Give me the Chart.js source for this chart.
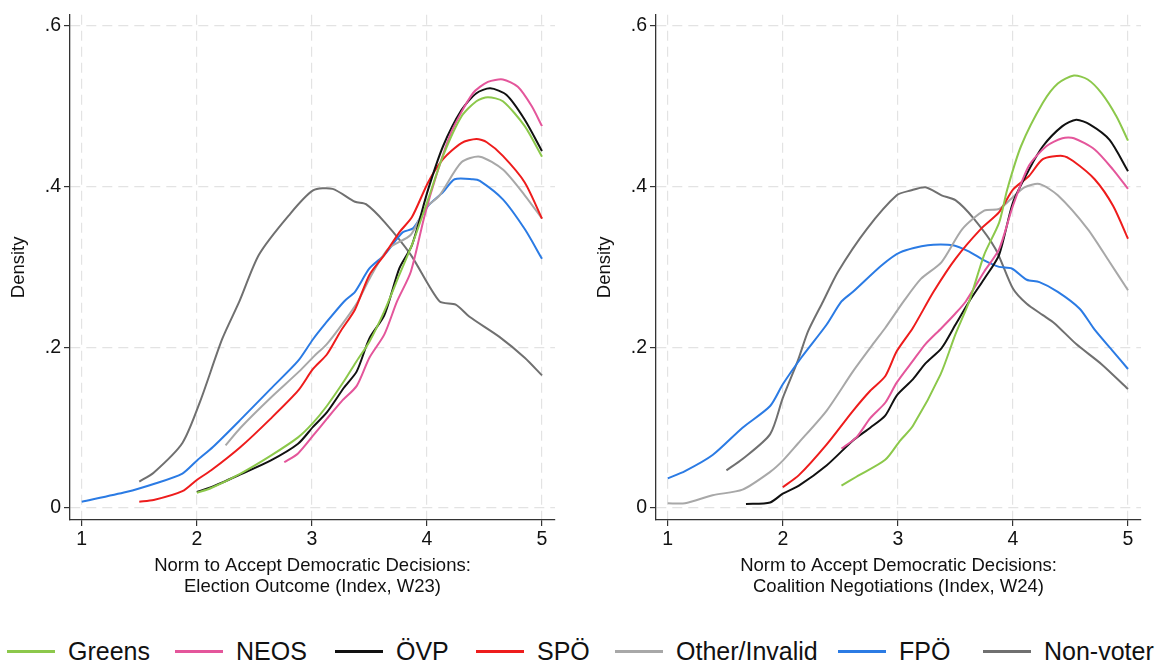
<!DOCTYPE html>
<html>
<head>
<meta charset="utf-8">
<title>Density of democratic norm by party</title>
<script src="https://cdn.jsdelivr.net/npm/chart.js@4.4.1/dist/chart.umd.min.js"></script>
<style>
    body { margin: 0; background: #fff; width: 1157px; height: 667px; overflow: hidden; position: relative;
           font-family: "Liberation Sans", Arial, sans-serif; }
    .panel { position: absolute; top: 0; }
    .legend-item { position: absolute; top: 636px; height: 30px; display: flex; align-items: center;
                   font-size: 25px; color: #111; white-space: nowrap; }
    .legend-item .swatch { width: 48px; height: 3px; margin-right: 13px; }
</style>
</head>
<body>

<div class="panel" style="left:0"><canvas id="w23Chart" width="586" height="610"></canvas></div>
<div class="panel" style="left:586px"><canvas id="w24Chart" width="571" height="610"></canvas></div>
<div id="legend"></div>

<script>
// series names and colours (legend order)
const seriesNames = ['Greens', 'NEOS', 'ÖVP', 'SPÖ', 'Other/Invalid', 'FPÖ', 'Non-voter'];
const seriesColors = ['#8cc84b', '#e4569b', '#111111', '#ee1c1c', '#a8a8a8', '#2b7be4', '#707070'];

// axis ticks
const xTicks = [1, 2, 3, 4, 5];
const yTicks = [0, 0.2, 0.4, 0.6];

// W23: election outcome — [index value, density]
const w23Greens = [[2.0,0.019],[2.125,0.025],[2.38,0.043],[2.64,0.065],[2.88,0.088],[3.01,0.106],[3.13,0.127],[3.28,0.158],[3.39,0.183],[3.5,0.207],[3.63,0.245],[3.76,0.29],[3.88,0.331],[4.01,0.384],[4.14,0.438],[4.3,0.487],[4.43,0.506],[4.53,0.511],[4.66,0.506],[4.85,0.475],[5.0,0.437]];
const w23Neos = [[2.76,0.057],[2.88,0.068],[3.01,0.09],[3.13,0.111],[3.26,0.133],[3.39,0.152],[3.5,0.187],[3.63,0.216],[3.74,0.257],[3.86,0.294],[3.98,0.364],[4.08,0.413],[4.21,0.467],[4.4,0.516],[4.53,0.53],[4.66,0.533],[4.79,0.524],[4.91,0.5],[5.0,0.475]];
const w23Ovp = [[2.0,0.02],[2.125,0.026],[2.38,0.042],[2.64,0.059],[2.88,0.08],[3.01,0.101],[3.13,0.119],[3.28,0.15],[3.39,0.17],[3.5,0.211],[3.63,0.24],[3.76,0.298],[3.87,0.327],[4.01,0.396],[4.14,0.45],[4.3,0.495],[4.43,0.516],[4.55,0.522],[4.69,0.514],[4.85,0.483],[5.0,0.444]];
const w23Spo = [[1.5,0.008],[1.625,0.01],[1.875,0.021],[2.0,0.035],[2.125,0.047],[2.38,0.076],[2.64,0.111],[2.88,0.146],[3.01,0.173],[3.13,0.191],[3.25,0.22],[3.375,0.247],[3.5,0.29],[3.63,0.315],[3.76,0.343],[3.87,0.362],[4.01,0.405],[4.14,0.434],[4.3,0.454],[4.43,0.459],[4.52,0.455],[4.66,0.438],[4.85,0.405],[5.0,0.36]];
const w23Other = [[2.25,0.078],[2.38,0.1],[2.64,0.137],[2.89,0.17],[3.02,0.189],[3.13,0.204],[3.28,0.232],[3.4,0.257],[3.5,0.285],[3.66,0.322],[3.86,0.34],[3.98,0.372],[4.11,0.389],[4.3,0.43],[4.46,0.437],[4.66,0.421],[4.85,0.389],[5.0,0.36]];
const w23Fpo = [[1.0,0.008],[1.385,0.02],[1.625,0.03],[1.875,0.043],[2.0,0.059],[2.14,0.076],[2.38,0.11],[2.64,0.148],[2.88,0.183],[3.01,0.21],[3.12,0.23],[3.28,0.257],[3.375,0.269],[3.5,0.298],[3.63,0.315],[3.79,0.343],[3.88,0.348],[4.01,0.376],[4.14,0.393],[4.24,0.409],[4.4,0.409],[4.46,0.407],[4.66,0.384],[4.85,0.347],[5.0,0.31]];
const w23NonVoter = [[1.5,0.033],[1.625,0.044],[1.875,0.081],[2.03,0.133],[2.22,0.21],[2.37,0.257],[2.54,0.315],[2.8,0.364],[3.01,0.395],[3.18,0.397],[3.375,0.381],[3.47,0.378],[3.63,0.356],[3.86,0.315],[4.11,0.257],[4.25,0.253],[4.37,0.238],[4.63,0.213],[4.85,0.187],[5.0,0.165]];

// W24: coalition negotiations — [index value, density]
const w24Greens = [[2.51,0.028],[2.64,0.039],[2.89,0.06],[3.02,0.084],[3.13,0.102],[3.37,0.166],[3.5,0.216],[3.62,0.257],[3.75,0.315],[3.88,0.355],[3.95,0.396],[4.07,0.45],[4.26,0.504],[4.39,0.528],[4.53,0.538],[4.65,0.533],[4.77,0.516],[4.9,0.487],[5.0,0.457]];
const w24Neos = [[2.51,0.074],[2.64,0.088],[2.76,0.112],[2.89,0.131],[2.99,0.156],[3.13,0.183],[3.24,0.204],[3.38,0.224],[3.5,0.242],[3.59,0.257],[3.75,0.294],[3.88,0.322],[4.0,0.376],[4.14,0.426],[4.29,0.45],[4.43,0.46],[4.53,0.46],[4.71,0.446],[4.87,0.421],[5.0,0.397]];
const w24Ovp = [[1.68,0.005],[1.89,0.007],[2.0,0.018],[2.14,0.028],[2.38,0.053],[2.61,0.084],[2.76,0.1],[2.89,0.115],[2.99,0.14],[3.13,0.16],[3.24,0.18],[3.38,0.199],[3.5,0.228],[3.62,0.257],[3.75,0.285],[3.88,0.315],[4.0,0.38],[4.14,0.421],[4.26,0.45],[4.43,0.475],[4.55,0.483],[4.67,0.477],[4.84,0.458],[5.0,0.419]];
const w24Spo = [[2.0,0.026],[2.14,0.041],[2.38,0.079],[2.61,0.121],[2.76,0.146],[2.89,0.164],[2.99,0.195],[3.13,0.224],[3.31,0.269],[3.5,0.31],[3.72,0.347],[3.88,0.368],[4.0,0.396],[4.14,0.413],[4.26,0.434],[4.43,0.438],[4.52,0.432],[4.71,0.409],[4.87,0.376],[5.0,0.335]];
const w24Other = [[1.0,0.006],[1.15,0.006],[1.39,0.016],[1.65,0.023],[1.89,0.045],[2.0,0.059],[2.13,0.08],[2.38,0.121],[2.61,0.17],[2.8,0.207],[2.89,0.224],[3.05,0.257],[3.2,0.285],[3.38,0.306],[3.56,0.347],[3.75,0.37],[3.88,0.372],[3.98,0.384],[4.1,0.399],[4.23,0.403],[4.39,0.389],[4.65,0.347],[4.84,0.306],[5.0,0.271]];
const w24Fpo = [[1.0,0.037],[1.15,0.046],[1.39,0.066],[1.65,0.1],[1.89,0.127],[2.0,0.154],[2.16,0.187],[2.38,0.228],[2.51,0.257],[2.61,0.269],[2.86,0.302],[3.02,0.318],[3.26,0.327],[3.48,0.327],[3.62,0.319],[3.75,0.308],[3.88,0.3],[3.99,0.298],[4.12,0.284],[4.23,0.281],[4.39,0.269],[4.58,0.248],[4.71,0.222],[4.87,0.195],[5.0,0.173]];
const w24NonVoter = [[1.51,0.047],[1.65,0.061],[1.89,0.092],[2.0,0.137],[2.13,0.183],[2.22,0.22],[2.35,0.257],[2.48,0.294],[2.73,0.347],[2.99,0.389],[3.11,0.395],[3.24,0.399],[3.38,0.389],[3.5,0.383],[3.66,0.36],[3.85,0.322],[4.0,0.273],[4.12,0.254],[4.26,0.24],[4.36,0.23],[4.55,0.204],[4.77,0.179],[5.0,0.148]];

const w23Series = [w23Greens, w23Neos, w23Ovp, w23Spo, w23Other, w23Fpo, w23NonVoter];
const w24Series = [w24Greens, w24Neos, w24Ovp, w24Spo, w24Other, w24Fpo, w24NonVoter];

Chart.defaults.font.family = "'Liberation Sans', Arial, sans-serif";
Chart.defaults.color = '#111';

const gridStyle = {
    color: '#e3e3e3',
    lineWidth: 1.2,
    tickLength: 6,
    tickColor: '#333',
    tickWidth: 1.2,
    tickBorderDash: []
};
const borderStyle = { color: '#333', width: 1.3, dash: [10, 6] };

function makePanel(canvasId, series, titleLines) {
    const canvas = document.getElementById(canvasId);
    const datasets = series.map((pts, i) => ({
        label: seriesNames[i],
        data: pts.map(p => ({ x: p[0], y: p[1] })),
        borderColor: seriesColors[i],
        borderWidth: 2,
        pointRadius: 0,
        tension: 0.25,
        fill: false,
        order: i
    }));

    return new Chart(canvas.getContext('2d'), {
        type: 'line',
        data: { datasets: datasets },
        options: {
            responsive: false,
            animation: false,
            layout: { padding: { top: 12, right: canvas.width - 555, left: 0, bottom: 0 } },
            plugins: { legend: { display: false }, tooltip: { enabled: false } },
            scales: {
                x: {
                    type: 'linear',
                    min: 0.898,
                    max: 5.113,
                    afterBuildTicks: s => { s.ticks = xTicks.map(v => ({ value: v })); },
                    afterFit: s => { s.height = 90; },
                    ticks: { font: { size: 19.5 }, padding: 2, color: '#111' },
                    grid: gridStyle,
                    border: borderStyle,
                    title: {
                        display: true,
                        text: titleLines,
                        font: { size: 18.5, lineHeight: 1.135 },
                        padding: { top: 0, bottom: 12.5 },
                        color: '#111'
                    }
                },
                y: {
                    type: 'linear',
                    min: -0.0148,
                    max: 0.6136,
                    afterBuildTicks: s => { s.ticks = yTicks.map(v => ({ value: v })); },
                    afterFit: s => { s.width = 70; },
                    ticks: {
                        font: { size: 19.5 },
                        padding: 3,
                        color: '#111',
                        callback: v => v === 0 ? '0' : String(v).replace(/^0/, '')
                    },
                    grid: gridStyle,
                    border: borderStyle,
                    title: {
                        display: true,
                        text: 'Density',
                        font: { size: 18.5, lineHeight: 1.135 },
                        padding: { top: 8, bottom: 0 },
                        color: '#111'
                    }
                }
            }
        }
    });
}

// legend below both panels
function buildLegend() {
    const lefts = [7, 175, 335, 476, 615, 838, 983];
    const legend = document.getElementById('legend');
    seriesNames.forEach((name, i) => {
        const item = document.createElement('div');
        item.className = 'legend-item';
        item.style.left = lefts[i] + 'px';
        item.innerHTML = '<span class="swatch" style="background:' + seriesColors[i] + '"></span><span>' + name + '</span>';
        legend.appendChild(item);
    });
}

makePanel('w23Chart', w23Series, ['Norm to Accept Democratic Decisions:', 'Election Outcome (Index, W23)']);
makePanel('w24Chart', w24Series, ['Norm to Accept Democratic Decisions:', 'Coalition Negotiations (Index, W24)']);
buildLegend();
</script>
</body>
</html>
